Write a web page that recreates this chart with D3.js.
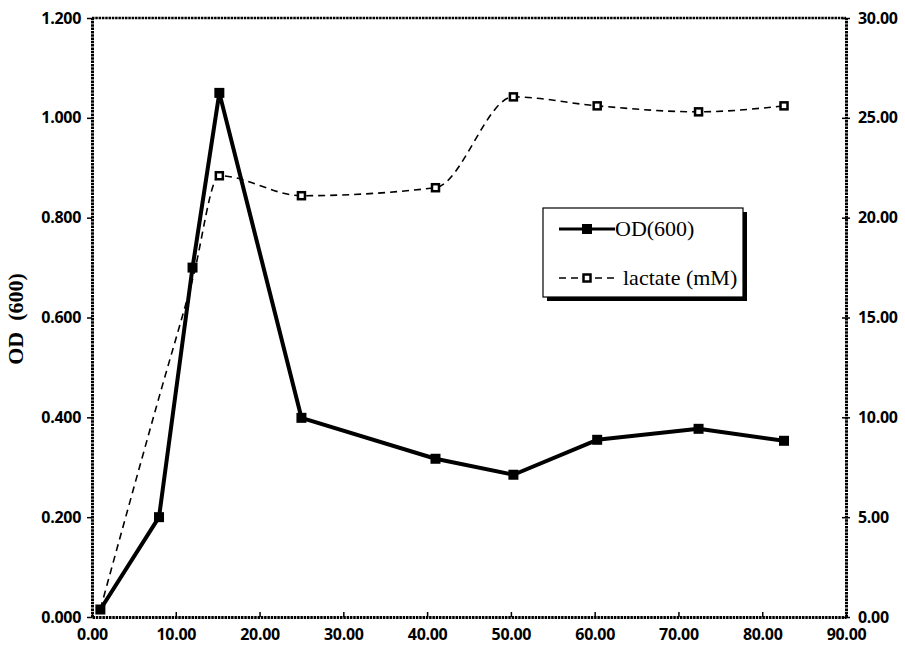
<!DOCTYPE html>
<html>
<head>
<meta charset="utf-8">
<script src="https://cdn.jsdelivr.net/npm/d3@7"></script>
<style>
  body { margin: 0; background: #fff; }
  svg { display: block; }
</style>
</head>
<body>
<div id="chart"></div>
<script>
// sampling times (x axis)
const times = [1.0, 8.0, 12.0, 15.2, 25.0, 41.0, 50.3, 60.3, 72.4, 82.6];
// OD(600), left axis
const odValues = [0.015, 0.200, 0.700, 1.050, 0.399, 0.317, 0.285, 0.355, 0.377, 0.353];
// lactate (mM), right axis
const lactateValues = [0.4, 11.0, 16.9, 22.1, 21.1, 21.5, 26.05, 25.6, 25.3, 25.6];

const xTicks = [0, 10, 20, 30, 40, 50, 60, 70, 80, 90];
const leftTicks = [0, 0.2, 0.4, 0.6, 0.8, 1.0, 1.2];
const rightTicks = [0, 5, 10, 15, 20, 25, 30];

const seriesNames = ["OD(600)", "lactate (mM)"];

const W = 905, H = 651;
const plot = { left: 92, right: 846, top: 18, bottom: 617 };

const svg = d3.select('#chart')
    .append('svg')
    .attr('width', W)
    .attr('height', H);

const x = d3.scaleLinear().domain([0, 90]).range([plot.left, plot.right]);
const yL = d3.scaleLinear().domain([0, 1.2]).range([plot.bottom, plot.top]);
const yR = d3.scaleLinear().domain([0, 30]).range([plot.bottom, plot.top]);

const tickFont = '"Open Sans", sans-serif';

// axes
const xAxis = svg.append('g')
    .attr('transform', `translate(0, ${ plot.bottom })`)
    .call(d3.axisBottom(x).tickValues(xTicks).tickFormat(d3.format('.2f')).tickSizeInner(-5).tickSizeOuter(0).tickPadding(12));

const leftAxis = svg.append('g')
    .attr('transform', `translate(${ plot.left }, 0)`)
    .call(d3.axisLeft(yL).tickValues(leftTicks).tickFormat(d3.format('.3f')).tickSizeInner(5).tickSizeOuter(0).tickPadding(6));

const rightAxis = svg.append('g')
    .attr('transform', `translate(${ plot.right }, 0)`)
    .call(d3.axisRight(yR).tickValues(rightTicks).tickFormat(d3.format('.2f')).tickSizeInner(4).tickSizeOuter(0).tickPadding(8));

[xAxis, leftAxis, rightAxis].forEach(g => {
    g.select('.domain').attr('stroke', '#000').attr('stroke-width', 3).attr('stroke-dasharray', '2.5,0.8');
    g.selectAll('.tick line').attr('stroke', '#000').attr('stroke-width', 1.5);
    g.selectAll('.tick text')
        .attr('fill', '#000')
        .style('font-family', tickFont)
        .style('font-weight', 700)
        .style('font-size', '16px')
        .style('letter-spacing', '-0.3px');
});
// right axis ticks cross the axis line
rightAxis.selectAll('.tick line').attr('x1', -4);

// top border
svg.append('line')
    .attr('x1', plot.left).attr('x2', plot.right)
    .attr('y1', plot.top).attr('y2', plot.top)
    .attr('stroke', '#000').attr('stroke-width', 2.5)
    .attr('stroke-dasharray', '2.5,0.8');

// y axis title
svg.append('text')
    .attr('transform', `translate(23, 319) rotate(-90)`)
    .attr('text-anchor', 'middle')
    .style('font-family', '"Liberation Serif", serif')
    .style('font-weight', 'bold')
    .style('font-size', '22px')
    .style('white-space', 'pre')
    .text('OD  (600)');

const odData = times.map((t, i) => ({ t, v: odValues[i] }));
const lacData = times.map((t, i) => ({ t, v: lactateValues[i] }));

// lactate: dashed smoothed line with hollow squares
const lacLine = d3.line()
    .x(d => x(d.t))
    .y(d => yR(d.v))
    .curve(d3.curveMonotoneX);

svg.append('path')
    .datum(lacData)
    .attr('d', lacLine)
    .attr('fill', 'none')
    .attr('stroke', '#000')
    .attr('stroke-width', 1.6)
    .attr('stroke-dasharray', '7,5');

svg.append('g').selectAll('rect')
    .data(lacData.slice(3))
    .enter()
    .append('rect')
    .attr('x', d => x(d.t) - 3.5)
    .attr('y', d => yR(d.v) - 3.5)
    .attr('width', 7)
    .attr('height', 7)
    .attr('fill', '#fff')
    .attr('stroke', '#000')
    .attr('stroke-width', 2.5);

// OD: thick solid line with filled squares
const odLine = d3.line()
    .x(d => x(d.t))
    .y(d => yL(d.v));

svg.append('path')
    .datum(odData)
    .attr('d', odLine)
    .attr('fill', 'none')
    .attr('stroke', '#000')
    .attr('stroke-width', 4)
    .attr('stroke-linejoin', 'round');

svg.append('g').selectAll('rect')
    .data(odData)
    .enter()
    .append('rect')
    .attr('x', d => x(d.t) - 5)
    .attr('y', d => yL(d.v) - 5)
    .attr('width', 10)
    .attr('height', 10)
    .attr('fill', '#000');

// legend
const legend = svg.append('g').attr('transform', 'translate(543, 208)');
legend.append('rect')
    .attr('x', 4).attr('y', 4)
    .attr('width', 200).attr('height', 89)
    .attr('fill', '#000');
legend.append('rect')
    .attr('width', 200).attr('height', 89)
    .attr('fill', '#fff')
    .attr('stroke', '#000')
    .attr('stroke-width', 1.2);

const legendRows = legend.selectAll('g.row')
    .data(seriesNames)
    .enter()
    .append('g')
    .attr('class', 'row')
    .attr('transform', (d, i) => `translate(0, ${ 21 + i * 49 })`);

legendRows.append('line')
    .attr('x1', 16).attr('x2', (d, i) => i === 0 ? 72 : 74)
    .attr('y1', 0).attr('y2', 0)
    .attr('stroke', '#000')
    .attr('stroke-width', (d, i) => i === 0 ? 3 : 1.6)
    .attr('stroke-dasharray', (d, i) => i === 0 ? null : '7,5');

legendRows.append('rect')
    .attr('x', (d, i) => i === 0 ? 39 : 40.5)
    .attr('y', (d, i) => i === 0 ? -5 : -3.5)
    .attr('width', (d, i) => i === 0 ? 10 : 7)
    .attr('height', (d, i) => i === 0 ? 10 : 7)
    .attr('fill', (d, i) => i === 0 ? '#000' : '#fff')
    .attr('stroke', '#000')
    .attr('stroke-width', (d, i) => i === 0 ? 0 : 2.5);

legendRows.append('text')
    .attr('x', (d, i) => i === 0 ? 72 : 80)
    .attr('y', 7)
    .style('font-family', '"Liberation Serif", serif')
    .style('font-size', '22px')
    .text(d => d);
</script>
</body>
</html>
